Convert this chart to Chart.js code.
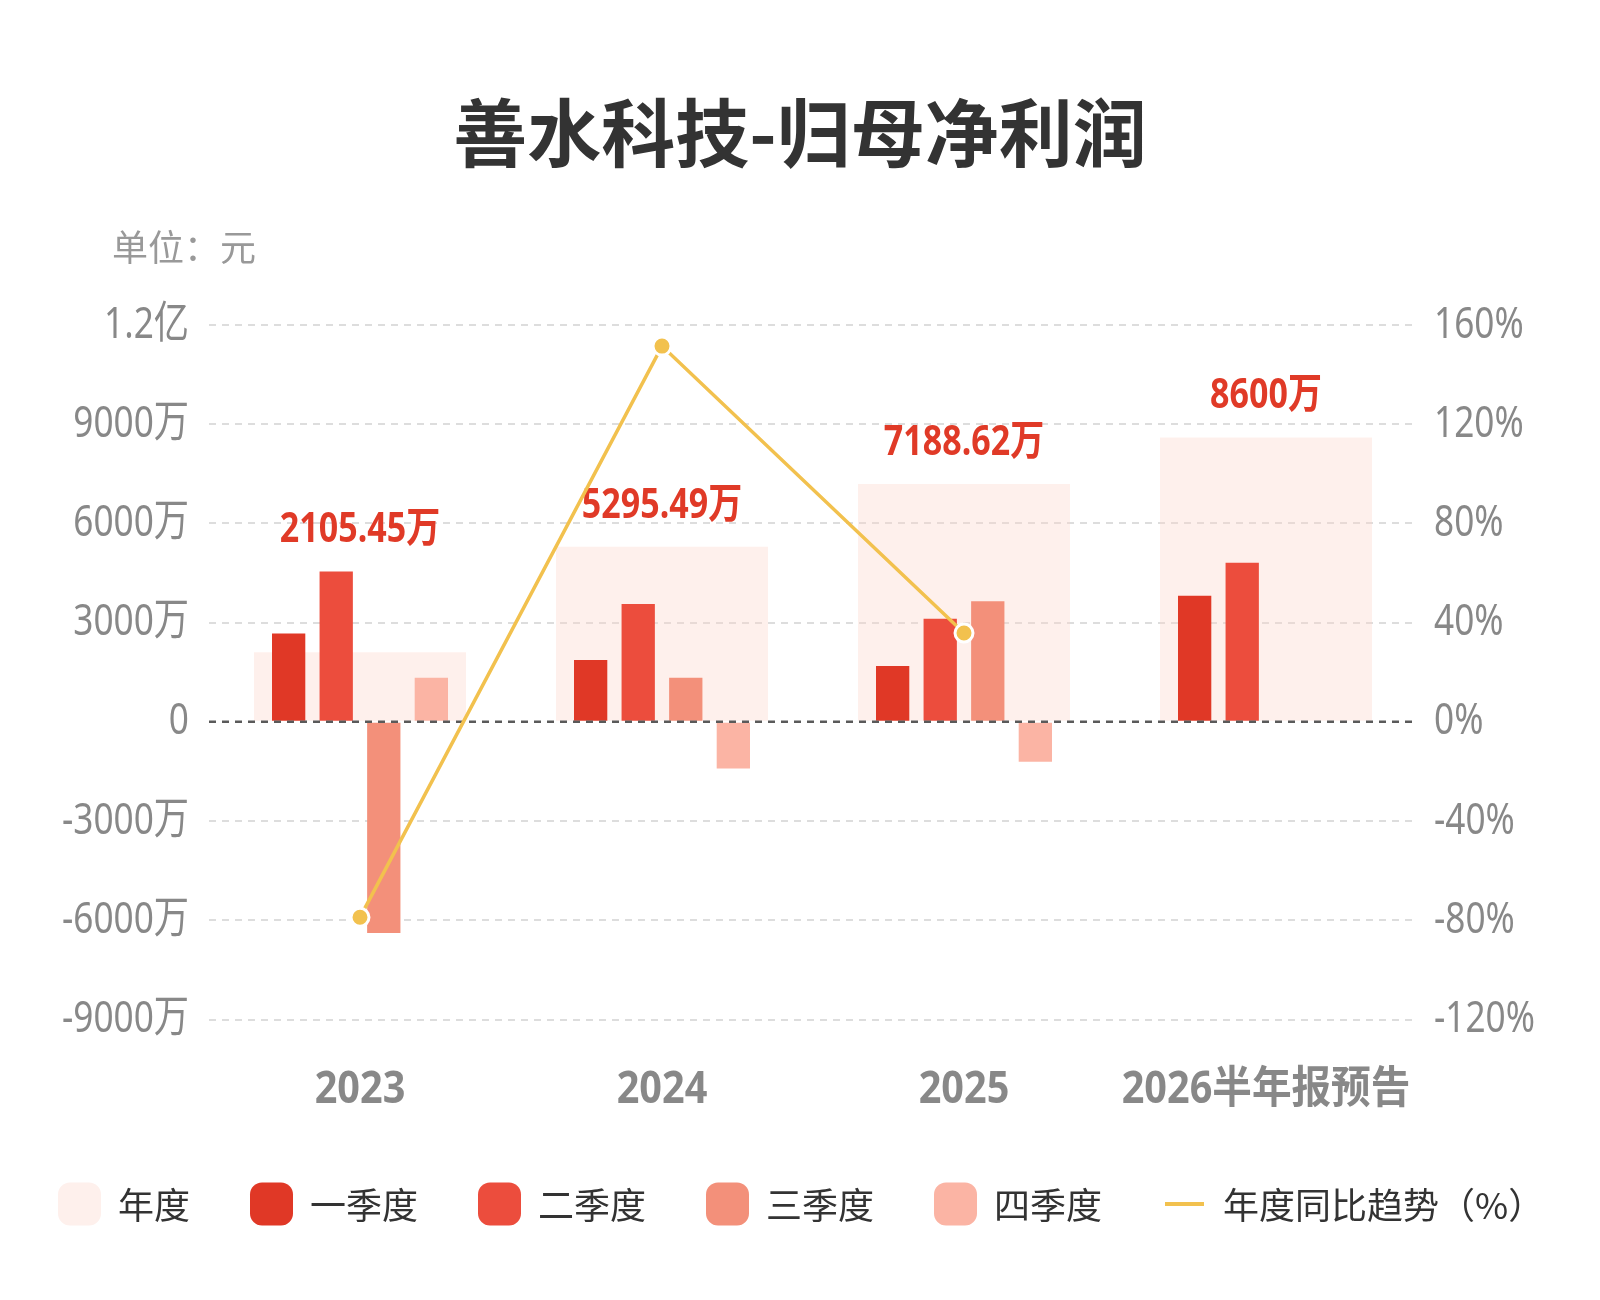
<!DOCTYPE html>
<html><head><meta charset="utf-8">
<script src="https://cdn.jsdelivr.net/npm/chart.js@4.4.1/dist/chart.umd.min.js"></script>
<style>html,body{margin:0;padding:0;background:#fff}canvas{display:block}</style>
</head><body>
<canvas id="c" width="1600" height="1300" style="width:1600px;height:1300px"></canvas>
<script>
const chartTitle = '善水科技-归母净利润';
const unitText = '单位：元';
const categories = ['2023', '2024', '2025', '2026半年报预告'];
// values in 万元
const annual = [2105.45, 5295.49, 7188.62, 8600];
const q1 = [2672, 1867, 1687, 3816];
const q2 = [4548, 3566, 3114, 4810];
const q3 = [-6384, 1337, 3645, null];
const q4 = [1337, -1408, -1208, null];
const yoy = [-78.8, 151.5, 35.8, null];
const annualLabels = ['2105.45万', '5295.49万', '7188.62万', '8600万'];
const leftTickValues = [-9000, -6000, -3000, 0, 3000, 6000, 9000, 12000];
const leftTickLabels = ['-9000万', '-6000万', '-3000万', '0', '3000万', '6000万', '9000万', '1.2亿'];
const rightTickValues = [-120, -80, -40, 0, 40, 80, 120, 160];
const rightTickLabels = ['-120%', '-80%', '-40%', '0%', '40%', '80%', '120%', '160%'];
const seriesNames = ['年度', '一季度', '二季度', '三季度', '四季度', '年度同比趋势（%）'];

const NUMF = "'Noto Sans', 'Noto Sans CJK SC', sans-serif";
const CJKF = "'Noto Sans CJK SC', sans-serif";
const C_ANNUAL = 'rgba(251,212,200,0.35)';
const C_ANNUAL_LEG = '#FEF0EC';
const C_Q = ['#E03826', '#EC4D3D', '#F3907A', '#FBB4A4'];
const C_LINE = '#F2C14E';

// horizontally condense the tick labels of a scale (labels still drawn by Chart.js)
function condensed(factor) {
  return function (s) {
    if (s._condensed) return;
    s._condensed = true;
    const base = s.drawLabels;
    s.drawLabels = function (area) {
      const ctx = this.ctx;
      const rot = ctx.rotate;
      ctx.rotate = function (a) { rot.call(ctx, a); ctx.scale(factor, 1); };
      try { base.call(this, area); } finally { ctx.rotate = rot; }
    };
  };
}

const decor = {
  id: 'decor',
  beforeDatasetDraw(chart, args) {
    if (chart.data.datasets[args.index].type !== 'line') return;
    const ctx = chart.ctx, ys = chart.scales.y, xs = chart.scales.x, ca = chart.chartArea;
    ctx.save();
    const y0 = ys.getPixelForValue(0);
    ctx.strokeStyle = '#5a5a5a'; ctx.lineWidth = 2.5; ctx.setLineDash([7, 6]);
    ctx.beginPath(); ctx.moveTo(ca.left, y0); ctx.lineTo(ca.right, y0); ctx.stroke();
    ctx.setLineDash([]);
    ctx.font = 'bold 42px ' + NUMF;
    ctx.fillStyle = '#E03A27'; ctx.textAlign = 'center'; ctx.textBaseline = 'middle';
    categories.forEach((c, i) => {
      const vals = [annual[i], q1[i], q2[i], q3[i], q4[i]].filter(v => v != null);
      const top = Math.max(...vals);
      ctx.save();
      ctx.translate(xs.getPixelForValue(i), ys.getPixelForValue(top) - 41);
      ctx.scale(0.81, 1);
      ctx.fillText(annualLabels[i], 0, 0);
      ctx.restore();
    });
    ctx.restore();
  },
  afterDraw(chart) {
    const ctx = chart.ctx;
    ctx.save();
    ctx.font = 'bold 74px ' + CJKF;
    ctx.fillStyle = '#333333'; ctx.textAlign = 'center'; ctx.textBaseline = 'middle';
    ctx.fillText(chartTitle, 800, 133);
    ctx.font = '36px ' + CJKF;
    ctx.fillStyle = '#999999'; ctx.textAlign = 'left';
    ctx.fillText(unitText, 112, 247);
    const ly = 1204;
    ctx.font = '36px ' + CJKF;
    ctx.textBaseline = 'middle'; ctx.textAlign = 'left';
    let x = 58;
    const colors = [C_ANNUAL_LEG, ...C_Q];
    seriesNames.forEach((name, i) => {
      if (i < 5) {
        ctx.fillStyle = colors[i];
        ctx.beginPath();
        ctx.roundRect(x, ly - 21.5, 43, 43, 12);
        ctx.fill();
        x += 43 + 17;
      } else {
        x += 3;
        ctx.fillStyle = C_LINE;
        ctx.fillRect(x, ly - 2, 39, 4);
        x += 39 + 19;
      }
      ctx.fillStyle = '#333333';
      ctx.fillText(name, x, ly + 1);
      x += ctx.measureText(name).width + 60;
    });
    ctx.restore();
  }
};

const tickFont = { family: NUMF, size: 44 };
const condY = condensed(0.8);
const condY1 = condensed(0.8);
const condX = condensed(0.9);

new Chart(document.getElementById('c'), {
  type: 'bar',
  data: {
    labels: categories,
    datasets: [
      { type: 'line', label: seriesNames[5], data: yoy, yAxisID: 'y1', order: 0,
        borderColor: C_LINE, borderWidth: 3.5, tension: 0,
        pointRadius: 9, pointBackgroundColor: C_LINE, pointBorderColor: '#ffffff', pointBorderWidth: 3 },
      { label: seriesNames[0], data: annual, yAxisID: 'y', order: 3, grouped: false,
        backgroundColor: C_ANNUAL, barPercentage: 0.702, categoryPercentage: 1 },
      { label: seriesNames[1], data: q1, yAxisID: 'y', order: 2, backgroundColor: C_Q[0], barPercentage: 0.70, categoryPercentage: 0.63 },
      { label: seriesNames[2], data: q2, yAxisID: 'y', order: 2, backgroundColor: C_Q[1], barPercentage: 0.70, categoryPercentage: 0.63 },
      { label: seriesNames[3], data: q3, yAxisID: 'y', order: 2, backgroundColor: C_Q[2], barPercentage: 0.70, categoryPercentage: 0.63 },
      { label: seriesNames[4], data: q4, yAxisID: 'y', order: 2, backgroundColor: C_Q[3], barPercentage: 0.70, categoryPercentage: 0.63 }
    ]
  },
  options: {
    responsive: false,
    devicePixelRatio: 1,
    animation: false,
    layout: { padding: { top: 325, left: 0, right: 0, bottom: 0 } },
    plugins: { legend: { display: false }, tooltip: { enabled: false }, title: { display: false } },
    scales: {
      x: {
        type: 'category', offset: true, position: 'bottom',
        grid: { display: false, drawTicks: false, offset: true }, border: { display: false },
        ticks: { color: '#888888', font: { family: NUMF, size: 44, weight: 'bold' }, padding: 45, maxRotation: 0, autoSkip: false },
        afterFit(s) { s.height = 280.5; condX(s); }
      },
      y: {
        type: 'linear', position: 'left', min: -9000, max: 12000,
        afterBuildTicks(s) { s.ticks = leftTickValues.map(v => ({ value: v })); },
        ticks: { color: '#888888', font: tickFont, padding: 20,
          callback: (v) => leftTickLabels[leftTickValues.indexOf(v)] },
        grid: { color: (c) => c.tick && c.tick.value === 0 ? 'rgba(0,0,0,0)' : '#dddddd', lineWidth: 2, drawTicks: false },
        border: { display: false, dash: [7, 6] },
        afterFit(s) { s.width = 209; condY(s); }
      },
      y1: {
        type: 'linear', position: 'right', min: -120, max: 160,
        afterBuildTicks(s) { s.ticks = rightTickValues.map(v => ({ value: v })); },
        ticks: { color: '#888888', font: tickFont, padding: 17,
          callback: (v) => rightTickLabels[rightTickValues.indexOf(v)] },
        grid: { display: false, drawTicks: false },
        border: { display: false },
        afterFit(s) { s.width = 183; condY1(s); }
      }
    }
  },
  plugins: [decor]
});
</script>
</body></html>
